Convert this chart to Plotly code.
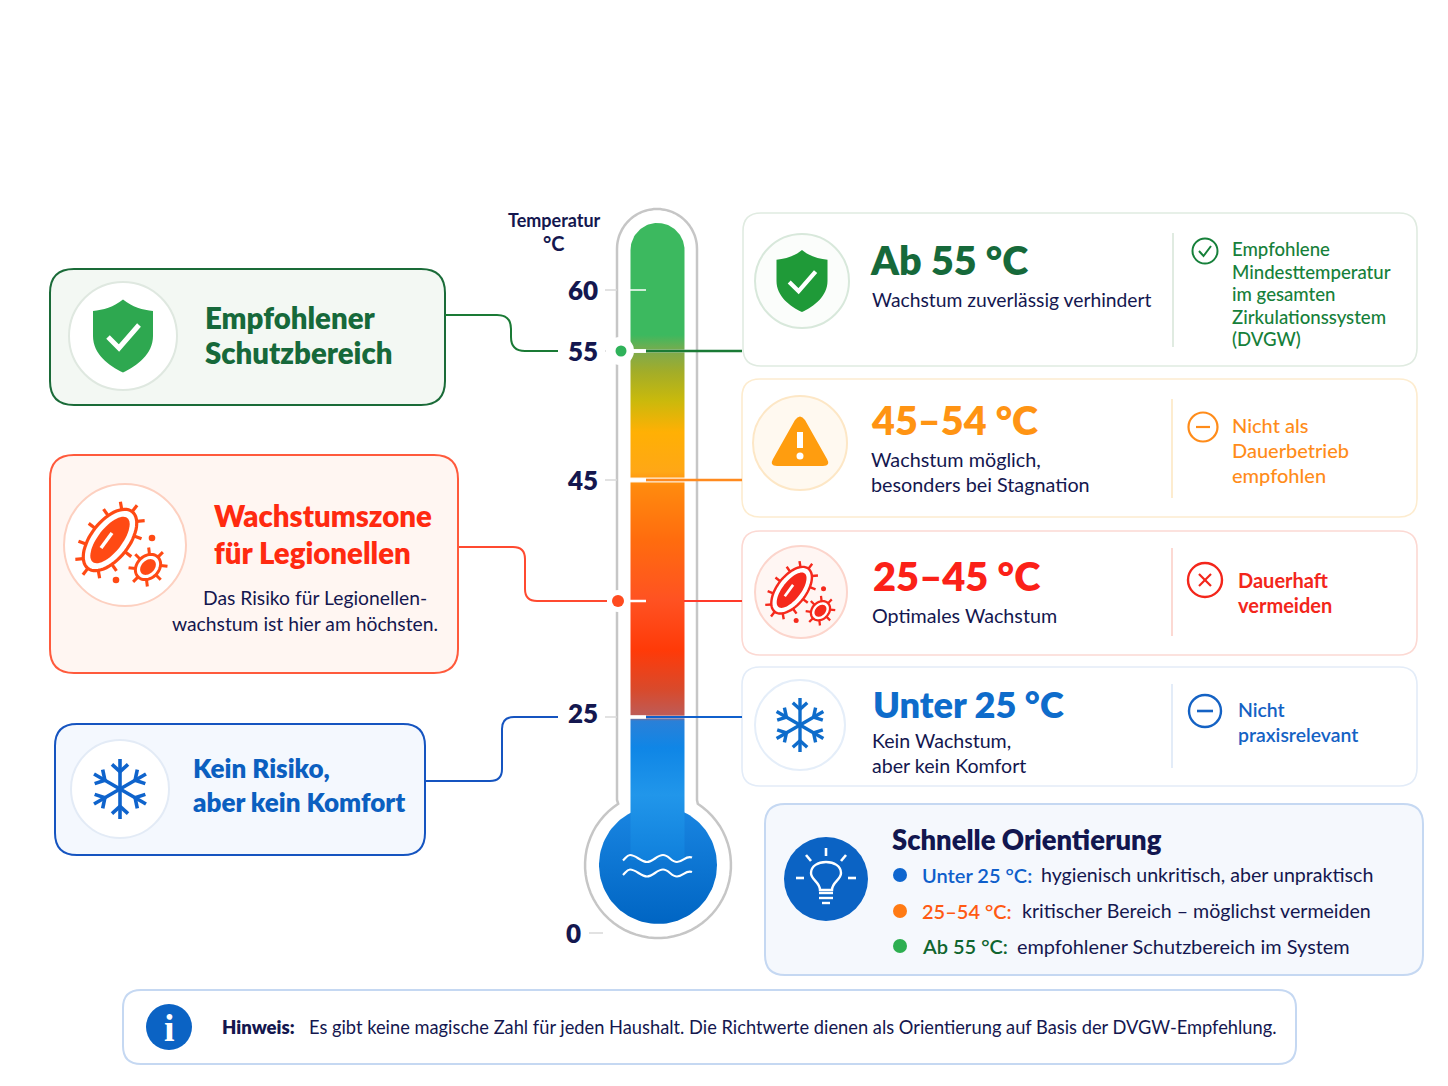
import numpy as np
import plotly.graph_objects as go

FONT = "Lato"
NAVY = "#14174f"
GREEN = "#16693a"
ORANGE = "#ff9413"
RED = "#fb2118"
BLUE = "#0e6ccb"

# thermometer scale
temp_ticks = [60, 55, 45, 25, 0]
temp_tick_y = [290, 351, 480, 717, 933]
temp_label_y = [290, 351, 480, 713, 933]
temp_label_x = [598, 598, 598, 598, 581]

tube_stop_y = [223, 335, 352, 372, 400, 432, 472, 486, 540, 600, 650, 690, 716, 721, 748, 795, 860]
tube_stop_col = ["#3cb95f", "#3cb95f", "#7faa4c", "#a3ad28", "#c9b90c", "#ffb004", "#ffa716", "#ff8a0e",
                 "#ff6c0e", "#ff5222", "#ff3a08", "#d84a2c", "#bd5c58", "#2a80d8", "#0f86e6", "#2196ea", "#1080dc"]
bulb_stop_y = [805, 924]
bulb_stop_col = ["#1a86e2", "#0065c3"]

# right hand cards
card_heads = ["Ab 55 °C", "45–54 °C", "25–45 °C", "Unter 25 °C"]
card_subs = [["Wachstum zuverlässig verhindert"],
             ["Wachstum möglich,", "besonders bei Stagnation"],
             ["Optimales Wachstum"],
             ["Kein Wachstum,", "aber kein Komfort"]]
card_notes = [["Empfohlene", "Mindesttemperatur", "im gesamten", "Zirkulationssystem", "(DVGW)"],
              ["Nicht als", "Dauerbetrieb", "empfohlen"],
              ["Dauerhaft", "vermeiden"],
              ["Nicht", "praxisrelevant"]]
card_cols = [GREEN, ORANGE, RED, BLUE]
card_note_cols = ["#16803a", "#ff8c1a", "#f3261b", "#1462c4"]
card_borders = ["#e0ebe1", "#fdeccf", "#fcd9d3", "#e3ecf8"]
card_box = [(743, 213, 1417, 366), (742, 379, 1417, 517), (742, 531, 1417, 655), (742, 667, 1417, 786)]
card_head_pos = [(870, 260), (871, 420), (873, 576), (873, 704)]
card_head_size = [39.5, 39.5, 39.8, 36.2]
card_sub_pos = [(872, [300]), (871, [459, 484]), (872, [616]), (872, [741, 766])]
card_sub_size = [19.3, 19.8, 19.7, 19.6]
card_note_pos = [(1232, [249, 272, 294, 317, 339]), (1232, [425, 450, 475]), (1238, [580, 605]), (1238, [710, 735])]
card_note_size = [18.6, 20, 20, 19.4]
card_note_weight = [500, 500, 700, 600]
card_div = [(1173, 233, 347), (1172, 399, 498), (1172, 548, 636), (1172, 684, 768)]
card_icon = [(802, 281, 47, "#d8e8db", "#fbfdfb"), (800, 443, 47, "#fde7c6", "#fff9f0"),
             (801, 592, 46, "#fcd5cc", "#fff6f3"), (800, 725, 45, "#e5eef9", "#ffffff")]

# quick guide
guide_title = "Schnelle Orientierung"
guide_keys = ["Unter 25 °C:", "25–54 °C:", "Ab 55 °C:"]
guide_texts = ["hygienisch unkritisch, aber unpraktisch", "kritischer Bereich – möglichst vermeiden",
               "empfohlener Schutzbereich im System"]
guide_key_cols = ["#0f5fcb", "#ff5a14", "#10652f"]
guide_dot_cols = ["#0f66cf", "#ff7a14", "#2dae50"]
guide_y = [875, 911, 946]
guide_text_x = [1041, 1022, 1017]
guide_text_size = [19.6, 19.6, 19.9]

note_key = "Hinweis:"
note_text = "Es gibt keine magische Zahl für jeden Haushalt. Die Richtwerte dienen als Orientierung auf Basis der DVGW-Empfehlung."

shapes = []
annots = []


def rrect(x0, y0, x1, y1, r):
    return (f"M {x0+r} {y0} L {x1-r} {y0} Q {x1} {y0} {x1} {y0+r} L {x1} {y1-r} Q {x1} {y1} {x1-r} {y1} "
            f"L {x0+r} {y1} Q {x0} {y1} {x0} {y1-r} L {x0} {y0+r} Q {x0} {y0} {x0+r} {y0} Z")


def path(d, fill=None, col=None, w=0, layer="above", op=1):
    shapes.append(dict(type="path", path=d, fillcolor=fill or "rgba(0,0,0,0)", opacity=op, layer=layer,
                       line=dict(color=col or "rgba(0,0,0,0)", width=w)))


def box(x0, y0, x1, y1, r, fill, col, w=2):
    path(rrect(x0, y0, x1, y1, r), fill, col, w, "below")


def line(x0, y0, x1, y1, col, w=2, layer="above", op=1):
    shapes.append(dict(type="line", x0=x0, y0=y0, x1=x1, y1=y1, opacity=op, layer=layer,
                       line=dict(color=col, width=w)))


def circle(cx, cy, r, fill=None, col=None, w=0, layer="above"):
    shapes.append(dict(type="circle", x0=cx-r, x1=cx+r, y0=cy-r, y1=cy+r, layer=layer,
                       fillcolor=fill or "rgba(0,0,0,0)", line=dict(color=col or "rgba(0,0,0,0)", width=w)))


def text(x, y, s, size, col=NAVY, weight=400, anchor="left", family=FONT):
    # annotations sit a little off the given point, pull them back
    dx = {"left": -2.5, "right": 2, "center": 0}[anchor]
    dy = 0 if anchor == "center" else -0.5
    annots.append(dict(x=x + dx, y=y + dy, xref="x", yref="y", text=s, showarrow=False,
                       xanchor=anchor, yanchor="middle",
                       font=dict(family=family, size=size, color=col, weight=weight)))


def poly(pts):
    return "M " + " L ".join(f"{a:.1f} {b:.1f}" for a, b in pts) + " Z"


def arc(cx, cy, r, a0, a1, n=60):
    t = np.radians(np.linspace(a0, a1, n))
    return np.column_stack([cx + r*np.cos(t), cy + r*np.sin(t)])


def shift(cmds, cx, cy, s):
    out = []
    for c in cmds:
        if isinstance(c, str):
            out.append(c)
        else:
            out.append(f"{cx + c[0]*s:.1f} {cy + c[1]*s:.1f}")
    return " ".join(out)


SHIELD = ["M", (0, -36.5), "C", (-9, -29), (-20, -26), (-30, -25), "L", (-30, 0), "C", (-30, 18), (-14, 30), (0, 36.5),
          "C", (14, 30), (30, 18), (30, 0), "L", (30, -25), "C", (20, -26), (9, -29), (0, -36.5), "Z"]
CHECK = ["M", (-15, 1), "L", (-4, 12), "L", (16, -11)]
GLASS = ["M", (-6, 11), "C", (-6, 3), (-15, 1), (-15, -6), "C", (-15, -13), (-8, -17), (0, -17),
         "C", (8, -17), (15, -13), (15, -6), "C", (15, 1), (6, 3), (6, 11), "Z"]
WAVE = ["M", (-35, 2), "C", (-32, -1), (-31, -3.5), (-28, -3.5), "C", (-22, -3.5), (-17, 3.5), (-11, 3.5),
        "C", (-5, 3.5), (-1, -3.5), (5, -3.5), "C", (11, -3.5), (13, 3.5), (19, 3.5),
        "C", (25, 3.5), (28, -3.5), (34, -1)]


def shield(cx, cy, s, fill):
    path(shift(SHIELD, cx, cy, s), fill)
    path(shift(CHECK, cx, cy, s), None, "white", 5*s)


def snowflake(cx, cy, r, col, w):
    for a in range(30, 390, 60):
        t = np.radians(a)
        ux, uy = np.cos(t), np.sin(t)
        line(cx, cy, cx + r*ux, cy + r*uy, col, w)
        for da in (-48, 48):
            b = np.radians(a + da)
            bx, by = cx + 0.58*r*ux, cy + 0.58*r*uy
            line(bx, by, bx + 0.36*r*np.cos(b), by + 0.36*r*np.sin(b), col, w)


def ellipse(cx, cy, rx, ry, rot):
    t = np.linspace(0, 2*np.pi, 60, endpoint=False)
    c, s = np.cos(np.radians(rot)), np.sin(np.radians(rot))
    x, y = rx*np.cos(t), ry*np.sin(t)
    return np.column_stack([cx + x*c - y*s, cy + x*s + y*c])


def germ(cx, cy, rx, ry, rot, col, w, spikes, spike_len):
    for t in np.linspace(0, 2*np.pi, spikes, endpoint=False):
        c, s = np.cos(np.radians(rot)), np.sin(np.radians(rot))
        x, y = rx*np.cos(t), ry*np.sin(t)
        nx, ny = np.cos(t)/rx, np.sin(t)/ry
        nl = np.hypot(nx, ny)
        nx, ny = nx/nl, ny/nl
        p0 = (cx + x*c - y*s, cy + x*s + y*c)
        p1 = (p0[0] + spike_len*(nx*c - ny*s), p0[1] + spike_len*(nx*s + ny*c))
        line(p0[0], p0[1], p1[0], p1[1], col, w)
    path(poly(ellipse(cx, cy, rx, ry, rot)), "white", col, w)


def bacteria(cx, cy, s, col):
    germ(cx - 15*s, cy - 5*s, 36*s, 19*s, -52, col, 3.2*s, 12, 8*s)
    path(poly(ellipse(cx - 15*s, cy - 5*s, 28*s, 12*s, -52)), col)
    line(cx - 24*s, cy + 3*s, cx - 13*s, cy - 12*s, "white", 3.5*s)
    germ(cx + 23*s, cy + 22*s, 14*s, 11*s, -45, col, 3*s, 8, 7*s)
    path(poly(ellipse(cx + 23*s, cy + 22*s, 9*s, 6.5*s, -45)), col)
    circle(cx + 27*s, cy - 7*s, 3.3*s, col)
    circle(cx - 9*s, cy + 35*s, 3.3*s, col)


# left hand boxes
box(50, 269, 445, 405, 24, "#f3f8f3", "#1a6b38")
circle(123, 336, 54, "white", "#dfe8e0", 2, "below")
shield(123, 336, 1, "#2ea850")
text(205, 318, "Empfohlener", 29.4, GREEN, 800)
text(205, 353, "Schutzbereich", 29.4, GREEN, 800)

box(50, 455, 458, 673, 24, "#fff6f2", "#ff5a3c")
circle(125, 545, 61, "white", "#fdd0c0", 2, "below")
bacteria(125, 545, 1, "#ff4a14")
text(214, 516, "Wachstumszone", 29.4, "#ff2a10", 800)
text(214, 553, "für Legionellen", 29.4, "#ff2a10", 800)
text(427, 598, "Das Risiko für Legionellen-", 19.3, NAVY, anchor="right")
text(438, 624, "wachstum ist hier am höchsten.", 19.3, NAVY, anchor="right")

box(55, 724, 425, 855, 22, "#f4f8fe", "#1554c0")
circle(120, 789, 49, "white", "#e3ebf6", 2, "below")
snowflake(120, 789, 30, "#0e63cc", 3.6)
text(193, 768, "Kein Risiko,", 26, "#0b5fc0", 800)
text(193, 802, "aber kein Komfort", 26, "#0b5fc0", 800)

# connectors on the left
path("M 445 315 L 497 315 Q 511 315 511 329 L 511 337 Q 511 351 525 351 L 558 351", None, "#1a7a35", 2)
path("M 459 547 L 513 547 Q 525 547 525 559 L 525 589 Q 525 601 537 601 L 607 601", None, "#ff4a30", 2)
path("M 425 781 L 490 781 Q 502 781 502 769 L 502 729 Q 502 717 514 717 L 558 717", None, "#1554c0", 2)

# thermometer glass
outer = np.vstack([arc(657, 249, 40, 180, 360), [[697, 800]], arc(658, 865, 73, -57, 237), [[617, 800]]])
path(poly(outer), "white", "#c6c6c6", 2.5, "below")

bulb = arc(658, 865, 59, 0, 360, 120)
fig = go.Figure()
fig.add_trace(go.Scatter(x=bulb[:, 0], y=bulb[:, 1], mode="lines", line=dict(width=0), fill="toself", hoverinfo="skip",
                         fillgradient=dict(type="vertical", start=bulb_stop_y[0], stop=bulb_stop_y[-1],
                                           colorscale=[[i, c] for i, c in enumerate(bulb_stop_col)])))
tube = np.vstack([arc(657.5, 250, 27, 180, 360), [[684.5, 860], [630.5, 860]]])
span = tube_stop_y[-1] - tube_stop_y[0]
fig.add_trace(go.Scatter(x=tube[:, 0], y=tube[:, 1], mode="lines", line=dict(width=0), fill="toself", hoverinfo="skip",
                         fillgradient=dict(type="vertical", start=tube_stop_y[0], stop=tube_stop_y[-1],
                                           colorscale=[[(y - tube_stop_y[0])/span, c]
                                                       for y, c in zip(tube_stop_y, tube_stop_col)])))
path(shift(WAVE, 658, 858.5, 1), None, "white", 2.2)
path(shift(WAVE, 658, 873, 1), None, "white", 2.2)

# scale ticks and labels
text(554, 220, "Temperatur", 18, NAVY, 700, "center")
text(554, 243, "°C", 20, NAVY, 700, "center")
for t, y, ly, lx in zip(temp_ticks, temp_tick_y, temp_label_y, temp_label_x):
    text(lx, ly, str(t), 26, NAVY, 800, "right")
    if t == 0:
        line(589, y, 603, y, "#d8d8d8", 1.5, "below")
    elif t == 55:
        line(605, y, 608, y, "#d8d8d8", 1.5, "below")
    else:
        line(605, y, 617, y, "#d8d8d8", 1.5, "below")
    if t != 0:
        line(630, y, 646, y, "white", 1.5 if t == 60 else 3.5)

# gaps in the colour column
line(630, 351, 685, 351, "white", 4, op=0.35)
line(630, 480, 685, 480, "white", 5, op=0.85)
line(630, 717, 685, 717, "white", 3, op=0.6)

# connectors to the cards
line(646, 351, 742, 351, "#1a7a35", 2.5)
line(646, 480, 742, 480, "#ff8a1f", 2.5)
line(684, 601, 742, 601, "#ff3a2a", 2)
line(646, 717, 742, 717, "#1060cc", 2)
circle(620, 351, 14, "white")
circle(621, 351, 5.5, "#2fb25a")
circle(618, 601, 11, "white")
circle(618, 601, 6, "#ff4b1f")
line(630, 351, 646, 351, "white", 3.5)
line(630, 601, 646, 601, "white", 2.5)

# right hand cards
for i in range(4):
    x0, y0, x1, y1 = card_box[i]
    box(x0, y0, x1, y1, 18, "white", card_borders[i], 1.6)
    cx, cy, r, bc, fc = card_icon[i]
    circle(cx, cy, r, fc, bc, 2, "below")
    text(card_head_pos[i][0], card_head_pos[i][1], card_heads[i], card_head_size[i], card_cols[i], 800)
    sx, sys = card_sub_pos[i]
    for s, y in zip(card_subs[i], sys):
        text(sx, y, s, card_sub_size[i])
    nx, nys = card_note_pos[i]
    for s, y in zip(card_notes[i], nys):
        text(nx, y, s, card_note_size[i], card_note_cols[i], card_note_weight[i])
    dx, d0, d1 = card_div[i]
    line(dx, d0, dx, d1, card_borders[i], 2, "below")

shield(802, 281, 0.85, "#1f9a38")
path("M 795 420 Q 800 413 805 420 L 827 459 Q 831 466 823 466 L 777 466 Q 769 466 773 459 Z", "#ff9d0f")
line(800, 432, 800, 448, "white", 6)
circle(800, 456, 3.5, "white")
bacteria(803, 594, 0.76, "#f5291c")
snowflake(800, 725, 27, "#0e6ccb", 3.4)

# status marks
circle(1205, 251, 12.5, None, "#16803a", 2)
path("M 1199 251 L 1203.5 256 L 1211 246", None, "#16803a", 2)
circle(1203, 427, 14.5, None, "#ff8c1a", 2.2)
line(1196, 427, 1210, 427, "#ff8c1a", 2.2)
circle(1205, 580, 17, None, "#f3261b", 2.4)
line(1199, 574, 1211, 586, "#f3261b", 2.2)
line(1211, 574, 1199, 586, "#f3261b", 2.2)
circle(1205, 711, 16, None, "#1462c4", 2.4)
line(1197, 711, 1213, 711, "#1462c4", 2.6)

# quick guide panel
box(765, 804, 1423, 975, 20, "#f5f8fd", "#c5d8f2", 2)
circle(826, 879, 42, "#0b63c4")
path(shift(GLASS, 826, 879, 1), None, "white", 2.4)
for yy, hw in ((14, 7), (19, 7), (24, 4)):
    line(826-hw, 879+yy, 826+hw, 879+yy, "white", 2.4)
line(826, 848, 826, 856, "white", 2.6)
line(806, 855, 811, 861, "white", 2.6)
line(846, 855, 841, 861, "white", 2.6)
line(796, 878, 804, 878, "white", 2.6)
line(856, 878, 848, 878, "white", 2.6)
text(892, 840, guide_title, 27.4, "#12164f", 800)
for k, t, kc, dc, y, tx, ts in zip(guide_keys, guide_texts, guide_key_cols, guide_dot_cols, guide_y, guide_text_x,
                                   guide_text_size):
    circle(900, y, 7, dc)
    text(922, y, k, 20, kc, 600)
    text(tx, y, t, ts)

# note bar
box(123, 990, 1296, 1064, 18, "white", "#c5d8f2", 2)
circle(169, 1027, 23, "#0b63c4")
text(169, 1028, "i", 38, "white", 700, "center", "Liberation Serif")
text(222, 1027, note_key, 18.5, NAVY, 800)
text(309, 1027, note_text, 18.27)

fig.update_layout(
    width=1448, height=1086, margin=dict(l=0, r=0, t=0, b=0), showlegend=False,
    paper_bgcolor="white", plot_bgcolor="white", shapes=shapes, annotations=annots,
    xaxis=dict(range=[0, 1448], visible=False, fixedrange=True),
    yaxis=dict(range=[1086, 0], visible=False, fixedrange=True),
)
fig.write_html("out.html", config=dict(displayModeBar=False),
               post_script="document.body.style.margin='0';document.body.style.overflow='hidden';")
